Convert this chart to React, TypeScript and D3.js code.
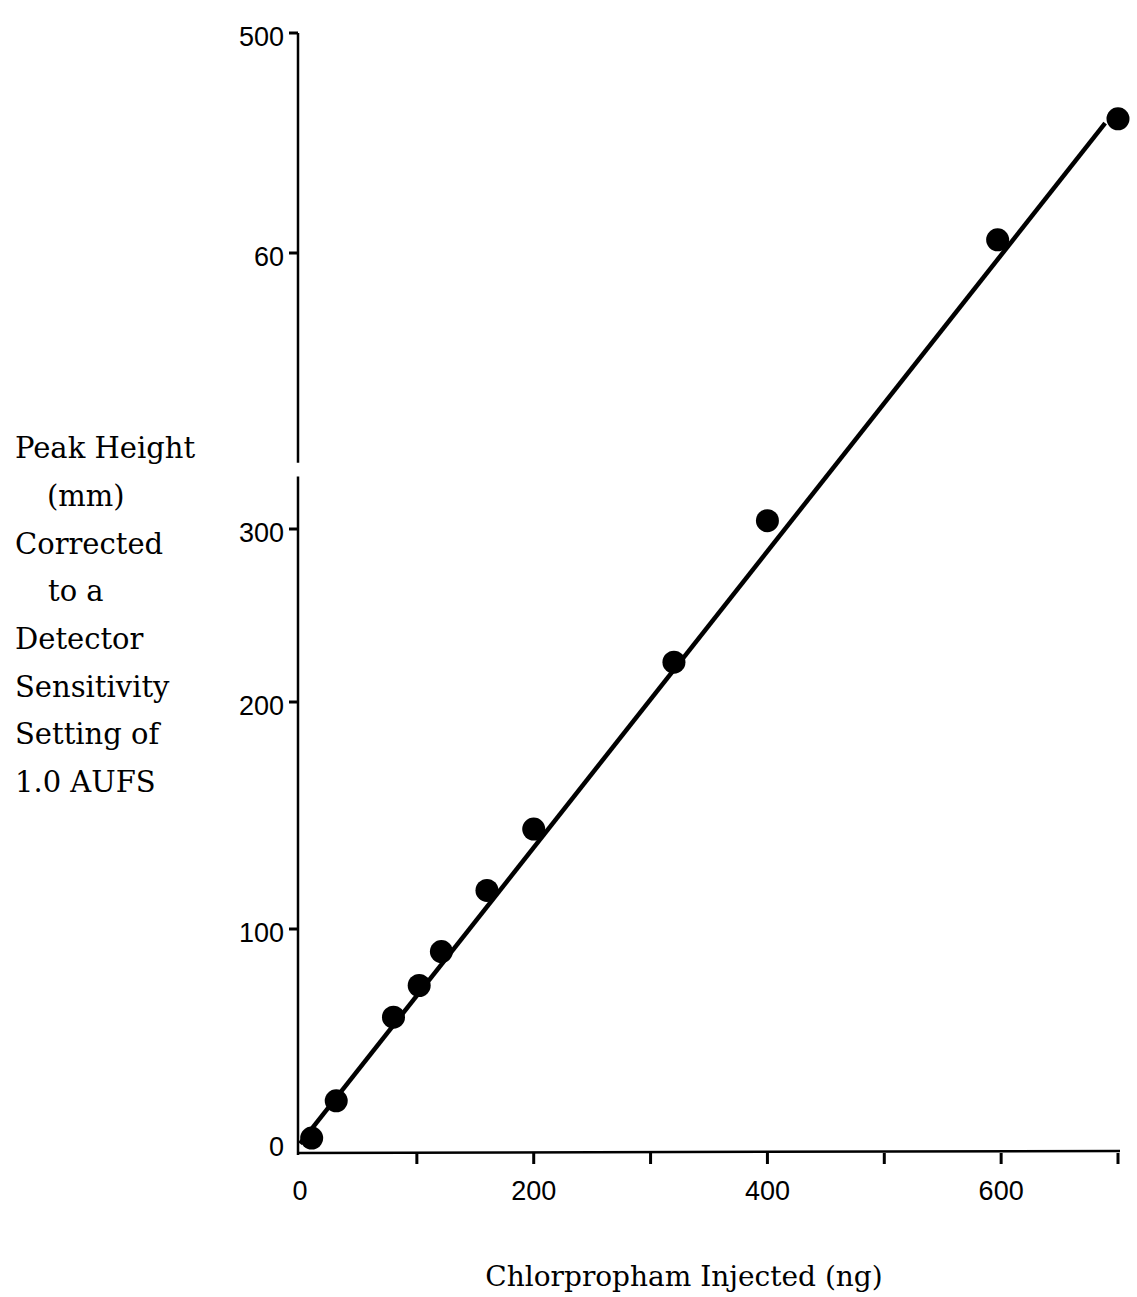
import React from "react";
import * as d3 from "d3";

// data
const amountsNg = [10, 31, 80, 102, 121, 160, 200, 320, 400, 597, 700];
const peakHeights = [7.5, 24, 61, 75, 90, 117, 144, 223, 303, 406, 461];
const fitX = [0, 689];
const fitY = [5, 459];

const xTickValues = [0, 100, 200, 300, 400, 500, 600, 700];
const xTickLabels = ["0", "", "200", "", "400", "", "600", ""];
const yTickValues = [0, 100, 200, 300, 400, 500];
const yTickLabels = ["0", "100", "200", "300", "60", "500"];
const breakValues = [319, 324];

const yLabelLines = [
  "Peak Height",
  "(mm)",
  "Corrected",
  "to a",
  "Detector",
  "Sensitivity",
  "Setting of",
  "1.0 AUFS",
];
const xLabel = "Chlorpropham Injected (ng)";

const W = 1137;
const H = 1297;

export default function App() {
  const ref = React.useRef<SVGSVGElement>(null);

  React.useEffect(() => {
    const svg = d3.select(ref.current);
    svg.selectAll("*").remove();

    // hand drawn broken axis: piecewise scale through the tick positions
    const x = d3.scaleLinear().domain([0, 700]).range([300, 1118]);
    const y = d3
      .scaleLinear()
      .domain(yTickValues)
      .range([1155, 929, 702, 529, 253, 33]);

    const sans = "'Liberation Sans', Arial, sans-serif";
    const serif = "'DejaVu Serif', serif";
    const axisX = 298;
    const axisY = 1153;

    const g = svg.append("g");

    // y axis, two pieces with a gap
    g.append("line")
      .attr("x1", axisX).attr("x2", axisX)
      .attr("y1", y(0)).attr("y2", y(breakValues[0]))
      .attr("stroke", "#000").attr("stroke-width", 2.5);
    g.append("line")
      .attr("x1", axisX).attr("x2", axisX)
      .attr("y1", y(breakValues[1])).attr("y2", y(500))
      .attr("stroke", "#000").attr("stroke-width", 2.5);

    g.selectAll("line.ytick")
      .data(yTickValues.slice(1))
      .enter()
      .append("line")
      .attr("class", "ytick")
      .attr("x1", axisX - 9).attr("x2", axisX)
      .attr("y1", d => y(d)).attr("y2", d => y(d))
      .attr("stroke", "#000").attr("stroke-width", 3);

    g.selectAll("text.ylab")
      .data(yTickValues)
      .enter()
      .append("text")
      .attr("class", "ylab")
      .attr("x", 284)
      .attr("y", d => (d === 0 ? y(d) - 8 : y(d) + 4))
      .attr("dy", "0.35em")
      .attr("text-anchor", "end")
      .style("font-family", sans)
      .style("font-size", "27px")
      .text((d, i) => yTickLabels[i]);

    // x axis
    g.append("line")
      .attr("x1", axisX).attr("x2", x(700) + 2)
      .attr("y1", axisY).attr("y2", axisY - 2)
      .attr("stroke", "#000").attr("stroke-width", 2.5);

    g.selectAll("line.xtick")
      .data(xTickValues.slice(1))
      .enter()
      .append("line")
      .attr("class", "xtick")
      .attr("x1", d => x(d)).attr("x2", d => x(d))
      .attr("y1", axisY).attr("y2", axisY + 11)
      .attr("stroke", "#000").attr("stroke-width", 3);

    g.selectAll("text.xlab")
      .data(xTickValues)
      .enter()
      .append("text")
      .attr("class", "xlab")
      .attr("x", d => x(d))
      .attr("y", 1191)
      .attr("dy", "0.35em")
      .attr("text-anchor", "middle")
      .style("font-family", sans)
      .style("font-size", "27px")
      .text((d, i) => xTickLabels[i]);

    // fitted line
    const line = d3
      .line<number>()
      .x(d => x(d))
      .y((d, i) => y(fitY[i]));
    g.append("path")
      .attr("d", line(fitX))
      .attr("fill", "none")
      .attr("stroke", "#000")
      .attr("stroke-width", 4.5);

    // points
    g.selectAll("circle.pt")
      .data(amountsNg)
      .enter()
      .append("circle")
      .attr("class", "pt")
      .attr("cx", d => x(d))
      .attr("cy", (d, i) => y(peakHeights[i]))
      .attr("r", 11.5)
      .attr("fill", "#000");

    // axis titles
    const indents = [0, 32, 0, 33, 0, 0, 0, 0];
    g.selectAll("text.ytitle")
      .data(yLabelLines)
      .enter()
      .append("text")
      .attr("class", "ytitle")
      .attr("x", (d, i) => 15 + indents[i])
      .attr("y", (d, i) => 448 + i * 47.7)
      .attr("dy", "0.35em")
      .style("font-family", serif)
      .style("font-size", "29px")
      .text(d => d);

    g.append("text")
      .attr("x", 684)
      .attr("y", 1276)
      .attr("dy", "0.35em")
      .attr("text-anchor", "middle")
      .style("font-family", serif)
      .style("font-size", "28px")
      .text(xLabel);
  }, []);

  return (
    <svg
      ref={ref}
      width={W}
      height={H}
      style={{ position: "absolute", left: 0, top: 0, background: "#fff" }}
    />
  );
}
